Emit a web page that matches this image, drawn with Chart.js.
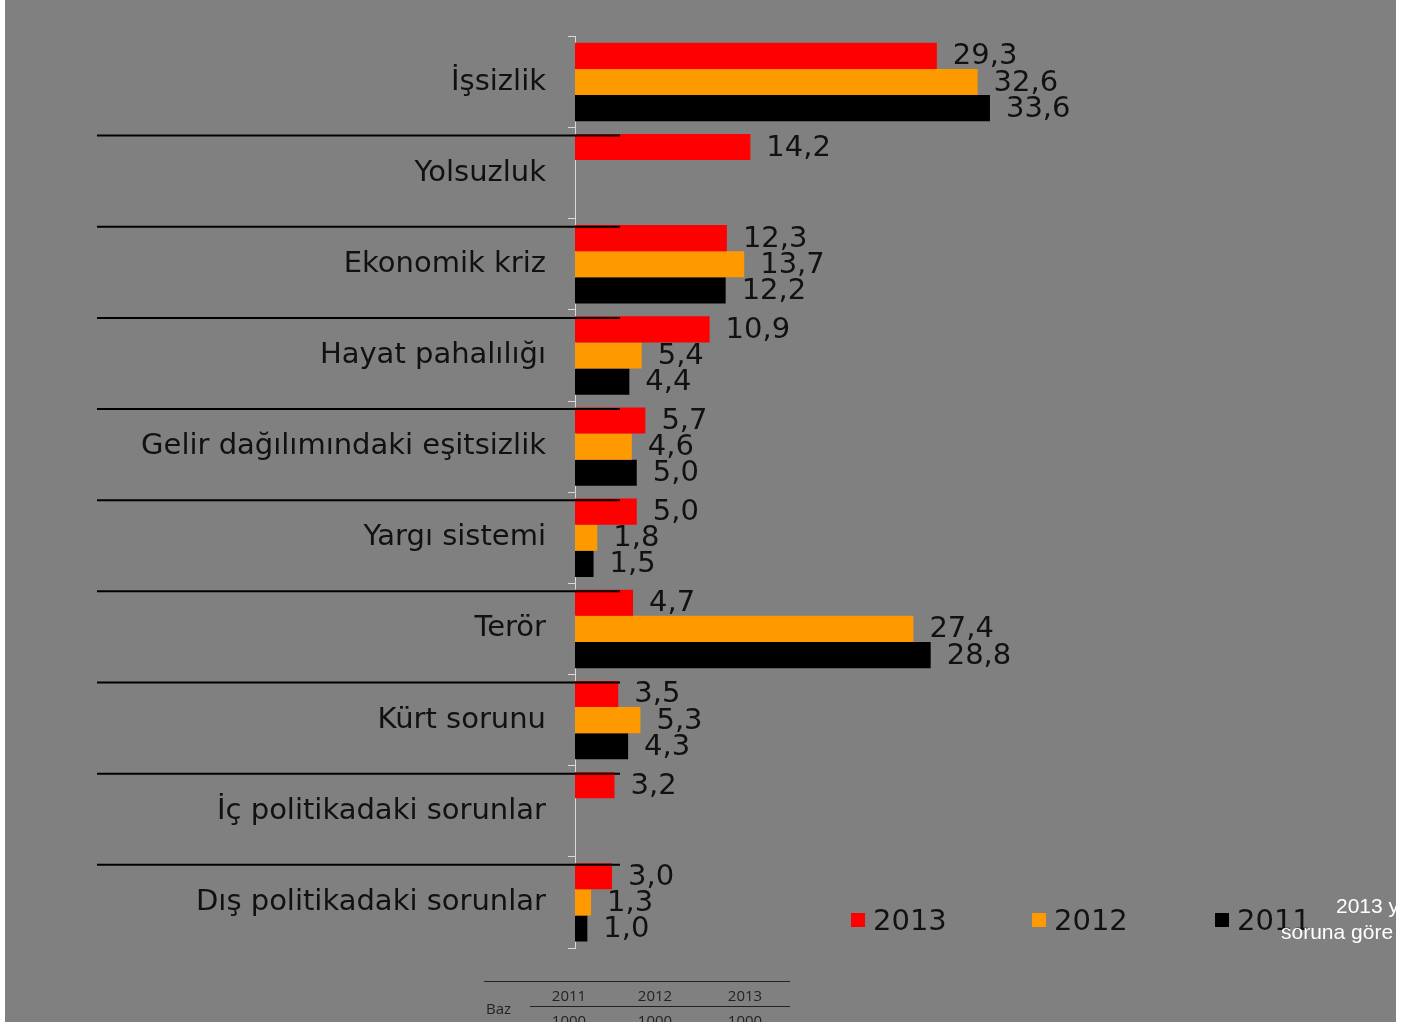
<!DOCTYPE html>
<html>
<head>
<meta charset="utf-8">
<script src="https://cdn.jsdelivr.net/npm/chart.js@4.4.0/dist/chart.umd.min.js"></script>
<style>
  html, body { margin: 0; padding: 0; background: #fff; }
  #panel {
    position: absolute; left: 5px; top: 0; width: 1391px; height: 1022px;
    background: #808080; overflow: hidden;
  }
  #chart { position: absolute; left: -5px; top: -3px; }
  .legend-item { position: absolute; top: 902px; height: 36px; display: flex; align-items: center;
    font-family: "DejaVu Sans", Verdana, sans-serif; font-size: 29px; color: #111; }
  .legend-item span.box { display: inline-block; width: 14px; height: 14px; margin-right: 8px; }
  .note { position: absolute; font-family: "Liberation Sans", Arial, sans-serif; font-size: 21px;
    color: #fff; white-space: nowrap; }
  .baz { position: absolute; font-family: "Open Sans", "Liberation Sans", sans-serif; font-size: 15px;
    color: #222; }
  .rule { position: absolute; height: 1px; background: #222; }
</style>
</head>
<body>
<div id="panel">
  <canvas id="chart" width="1402" height="1026"></canvas>
  <div id="legend"></div>
  <div class="note" style="left:1331px; top:894px;">2013 yılında en önemli</div>
  <div class="note" style="left:1276px; top:920px;">soruna göre</div>
  <div class="rule" style="left:479px; top:981px; width:306px;"></div>
  <div class="rule" style="left:525px; top:1006px; width:260px;"></div>
  <div id="baz"></div>
</div>
<script>
// categories and series (percent)
const categories = [
  "İşsizlik",
  "Yolsuzluk",
  "Ekonomik kriz",
  "Hayat pahalılığı",
  "Gelir dağılımındaki eşitsizlik",
  "Yargı sistemi",
  "Terör",
  "Kürt sorunu",
  "İç politikadaki sorunlar",
  "Dış politikadaki sorunlar",
];
const values2013 = [29.3, 14.2, 12.3, 10.9, 5.7, 5.0, 4.7, 3.5, 3.2, 3.0];
const values2012 = [32.6, null, 13.7, 5.4, 4.6, 1.8, 27.4, 5.3, null, 1.3];
const values2011 = [33.6, null, 12.2, 4.4, 5.0, 1.5, 28.8, 4.3, null, 1.0];
const seriesLabels = ["2013", "2012", "2011"];
const seriesColors = ["#ff0000", "#ff9900", "#000000"];
const bazYears = ["2011", "2012", "2013"];
const bazCounts = ["1000", "1000", "1000"];

const labelFont = '"DejaVu Sans", Verdana, sans-serif';

// -------------------------
// Value labels at bar ends
// -------------------------
const valueLabels = {
  id: "valueLabels",
  afterDatasetsDraw(chart) {
    const ctx = chart.ctx;
    ctx.save();
    ctx.font = "29px " + labelFont;
    ctx.fillStyle = "#111";
    ctx.textAlign = "left";
    ctx.textBaseline = "middle";
    chart.data.datasets.forEach((ds, i) => {
      chart.getDatasetMeta(i).data.forEach((bar, j) => {
        const v = ds.data[j];
        if (v == null) return;
        ctx.fillText(v.toFixed(1).replace(".", ","), bar.x + 16, bar.y + 1);
      });
    });
    ctx.restore();
  },
};

// -------------------------
// Black separator lines between categories
// -------------------------
const separators = {
  id: "separators",
  afterDatasetsDraw(chart) {
    const y = chart.scales.y;
    const ctx = chart.ctx;
    ctx.save();
    ctx.strokeStyle = "#000";
    ctx.lineWidth = 2;
    for (let i = 0; i < categories.length - 1; i++) {
      const yy = (y.getPixelForTick(i) + y.getPixelForTick(i + 1)) / 2 + 8;
      ctx.beginPath();
      ctx.moveTo(97, yy);
      ctx.lineTo(620, yy);
      ctx.stroke();
    }
    ctx.restore();
  },
};

new Chart(document.getElementById("chart").getContext("2d"), {
  type: "bar",
  data: {
    labels: categories,
    datasets: seriesLabels.map((label, i) => ({
      label: label,
      data: [values2013, values2012, values2011][i],
      backgroundColor: seriesColors[i],
      borderWidth: 0,
      categoryPercentage: 0.86,
      barPercentage: 1.0,
    })),
  },
  options: {
    indexAxis: "y",
    responsive: false,
    animation: false,
    layout: { padding: { left: 0, top: 31, bottom: 75, right: 333 } },
    plugins: {
      legend: { display: false },
      tooltip: { enabled: false },
    },
    scales: {
      x: {
        display: false,
        min: 0,
        max: 40,
      },
      y: {
        afterFit: (scale) => { scale.width = 575; },
        grid: {
          display: true,
          drawOnChartArea: false,
          drawTicks: true,
          tickLength: 7,
          color: "#d9d9d9",
          offset: true,
        },
        border: { display: true, color: "#d9d9d9", width: 1 },
        ticks: {
          color: "#111",
          padding: 22,
          font: { family: labelFont, size: 29 },
        },
      },
    },
  },
  plugins: [valueLabels, separators],
});

// Legend
const legendEl = document.getElementById("legend");
const legendX = [846, 1027, 1210];
seriesLabels.forEach((label, i) => {
  const item = document.createElement("div");
  item.className = "legend-item";
  item.style.left = legendX[i] + "px";
  item.innerHTML = `<span class="box" style="background:${seriesColors[i]}"></span>${label}`;
  legendEl.appendChild(item);
});

// Baz table
const bazEl = document.getElementById("baz");
const bazCenters = [564, 650, 740];
let html = `<div class="baz" style="left:481px; top:998px;">Baz</div>`;
bazYears.forEach((yr, i) => {
  html += `<div class="baz" style="left:${bazCenters[i] - 30}px; width:60px; text-align:center; top:985px;">${yr}</div>`;
  html += `<div class="baz" style="left:${bazCenters[i] - 30}px; width:60px; text-align:center; top:1010px;">${bazCounts[i]}</div>`;
});
bazEl.innerHTML = html;
</script>
</body>
</html>
